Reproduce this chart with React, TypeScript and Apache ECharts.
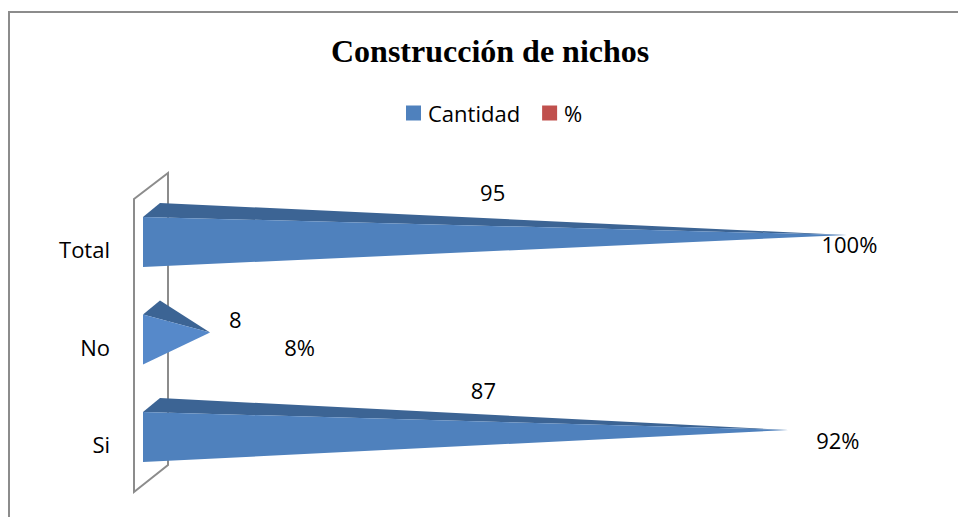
import React, { useEffect, useRef } from "react";
import * as echarts from "echarts";

// ---- data ----
const categories = ["Si", "No", "Total"];
const cantidad = [87, 8, 95];
const porcentaje = [92, 8, 100];
const legendNames = ["Cantidad", "%"];
const titleText = "Construcción de nichos";

// ---- layout / style (not data) ----
const FONT = "'Open Sans', sans-serif";
const BLUE = "#4F81BD";
const BLUE_TOP = "#3C6494";
const RED = "#C0504D";
const DEPTH_X = 17;
const DEPTH_Y = 14;
const BAR_SHIFT = 7; // 3D bars sit slightly above the category label centre
const CANT_LABEL_DX = [22, 63, 2];
const CANT_LABEL_DY = [-47, -21, -50];
const PCT_LABEL_DX = [58, 98, 11];
const PCT_LABEL_DY = [3, 7, 2];

export default function App() {
  const ref = useRef<HTMLDivElement>(null);

  useEffect(() => {
    if (!ref.current) return;
    const chart = echarts.init(ref.current, undefined, { renderer: "svg" });

    const coneData = categories.map((_, i) => [i, cantidad[i]]);
    const pctData = categories.map((_, i) => [i, cantidad[i], porcentaje[i]]);

    const option: any = {
      animation: false,
      backgroundColor: "#ffffff",
      title: {
        text: titleText,
        left: 326,
        top: 30,
        textStyle: {
          fontFamily: "'Liberation Serif', 'Times New Roman', serif",
          fontWeight: "bold",
          fontSize: 32,
          color: "#000",
        },
      },
      legend: {
        left: 401,
        top: 97,
        itemWidth: 15,
        itemHeight: 15,
        itemGap: 22,
        textStyle: { fontFamily: FONT, fontSize: 22, color: "#000", padding: [0, 0, 0, 2] },
        data: [
          { name: legendNames[0], icon: "rect", itemStyle: { color: BLUE } },
          { name: legendNames[1], icon: "rect", itemStyle: { color: RED } },
        ],
      },
      grid: { left: 143, right: 83, top: 200.25, bottom: 24.25 },
      xAxis: {
        type: "value",
        min: 0,
        max: 100,
        show: false,
        splitLine: { show: false },
      },
      yAxis: {
        type: "category",
        data: categories,
        axisLine: { show: false },
        axisTick: { show: false },
        axisLabel: {
          margin: 33,
          fontFamily: FONT,
          fontSize: 22,
          color: "#000",
        },
      },
      graphic: [
        {
          type: "rect",
          z: 0,
          shape: { x: 9, y: 12, width: 970, height: 530 },
          style: { fill: "none", stroke: "#8c8c8c", lineWidth: 2 },
        },
        {
          type: "polygon",
          z: 1,
          shape: { points: [[134, 199], [168, 173], [168, 465], [134, 492]] },
          style: { fill: "none", stroke: "#8c8c8c", lineWidth: 2 },
        },
      ],
      series: [
        {
          name: legendNames[0],
          type: "custom",
          z: 5,
          itemStyle: { color: BLUE },
          encode: { x: 1, y: 0 },
          data: coneData,
          renderItem: (params: any, api: any) => {
            const idx = params.dataIndex;
            const cat = api.value(0);
            const val = api.value(1);
            const base = api.coord([0, cat]);
            const end = api.coord([val, cat]);
            const mid = api.coord([val / 2, cat]);
            const band = api.size([0, 1])[1];
            const bh = band * 0.513;
            const x0 = base[0];
            const yc = base[1] - BAR_SHIFT;
            const yTop = yc - bh / 2;
            const yBot = yc + bh / 2;
            const tip = [end[0] + DEPTH_X / 2, yc - DEPTH_Y / 2];
            const front = idx === 1 ? "#5689CA" : BLUE;
            return {
              type: "group",
              children: [
                {
                  type: "polygon",
                  shape: { points: [[x0, yTop], [x0 + DEPTH_X, yTop - DEPTH_Y], tip] },
                  style: { fill: BLUE_TOP },
                },
                {
                  type: "polygon",
                  shape: { points: [[x0, yTop], [x0, yBot], tip] },
                  style: { fill: front },
                },
                {
                  type: "text",
                  style: {
                    text: String(val),
                    x: mid[0] + CANT_LABEL_DX[idx],
                    y: yc + CANT_LABEL_DY[idx],
                    textAlign: "center",
                    textVerticalAlign: "middle",
                    fontFamily: FONT,
                    fontSize: 22,
                    fill: "#000",
                  },
                },
              ],
            };
          },
        },
        {
          name: legendNames[1],
          type: "custom",
          z: 6,
          itemStyle: { color: RED },
          encode: { x: 1, y: 0 },
          data: pctData,
          renderItem: (params: any, api: any) => {
            const idx = params.dataIndex;
            const cat = api.value(0);
            const val = api.value(1);
            const pct = api.value(2);
            const end = api.coord([val, cat]);
            return {
              type: "text",
              style: {
                text: pct + "%",
                x: end[0] + PCT_LABEL_DX[idx],
                y: end[1] - BAR_SHIFT + PCT_LABEL_DY[idx],
                textAlign: "center",
                textVerticalAlign: "middle",
                fontFamily: FONT,
                fontSize: 22,
                fill: "#000",
              },
            };
          },
        },
      ],
    };

    chart.setOption(option);
    return () => chart.dispose();
  }, []);

  return (
    <div
      ref={ref}
      style={{ position: "absolute", left: 0, top: 0, width: 958, height: 517, background: "#fff" }}
    />
  );
}
